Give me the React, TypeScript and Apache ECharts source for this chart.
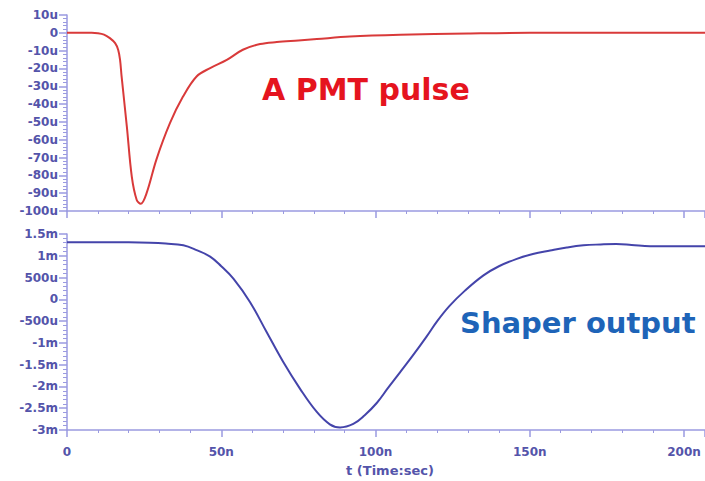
import React, { useEffect, useRef } from "react";
import * as echarts from "echarts";

// PMT pulse (top panel): time in ns, amplitude in µA-units ("u")
const pmtTime = [0, 8, 10, 12, 13.9, 15.6, 16.6, 17.2, 17.7, 19.4, 21, 22.6, 23.9, 25.8, 29, 33.4, 37.6, 42, 46.4, 51.8, 57, 62.6, 68, 75, 81, 91.7, 108, 130, 150, 206.8];
const pmtValue = [0, 0, -0.2, -1, -3, -5.8, -9.6, -15.2, -24.5, -52.6, -80.7, -93.8, -96, -90, -71, -50.6, -35.8, -24.5, -19.8, -15.2, -9.5, -6.3, -5.2, -4.3, -3.5, -2.1, -1.1, -0.4, 0, 0];

// Shaper output (bottom panel): time in ns, amplitude in milli-units ("m")
const shaperTime = [0, 20, 26.9, 32, 37.7, 42, 46.4, 50, 54, 59.3, 64.7, 70.1, 75.5, 80.9, 85.2, 88.5, 92.8, 96.5, 100.4, 104, 108, 112, 116.6, 120, 124, 129, 135, 140, 145.8, 151, 156.6, 162, 167.4, 173, 178, 183, 189, 206.8];
const shaperValue = [1.31, 1.31, 1.3, 1.28, 1.24, 1.13, 0.98, 0.76, 0.47, -0.06, -0.75, -1.44, -2.05, -2.58, -2.87, -2.94, -2.86, -2.66, -2.38, -2.04, -1.67, -1.3, -0.85, -0.5, -0.15, 0.2, 0.55, 0.76, 0.93, 1.04, 1.12, 1.19, 1.24, 1.26, 1.27, 1.25, 1.22, 1.22];

// Tick labels
const xTickLabels = ["0", "50n", "100n", "150n", "200n"];
const topYTicks = ["10u", "0", "-10u", "-20u", "-30u", "-40u", "-50u", "-60u", "-70u", "-80u", "-90u", "-100u"];
const bottomYTicks = ["1.5m", "1m", "500u", "0", "-500u", "-1m", "-1.5m", "-2m", "-2.5m", "-3m"];

const axisColor = "#9a9ae0";
const labelColor = "#5454aa";

export default function App() {
  const ref = useRef<HTMLDivElement>(null);
  useEffect(() => {
    if (!ref.current) return;
    const chart = echarts.init(ref.current, undefined, { renderer: "svg" });
    const labelStyle = {
      color: labelColor,
      fontWeight: "bold" as const,
      fontSize: 12,
      fontFamily: "DejaVu Sans",
    };
    const xLabelFmt = (v: number) => {
      const i = Math.round(v / 50);
      return Math.abs(v - i * 50) < 1e-6 && i < xTickLabels.length ? xTickLabels[i] : "";
    };
    const topYFmt = (v: number) => {
      const i = Math.round((10 - v) / 10);
      return topYTicks[i] ?? "";
    };
    const botYFmt = (v: number) => {
      const i = Math.round((1.5 - v) / 0.5);
      return bottomYTicks[i] ?? "";
    };
    const commonX = {
      type: "value" as const,
      min: 0,
      max: 206.8,
      interval: 50,
      splitLine: { show: false },
      axisLine: { show: true, onZero: false, lineStyle: { color: axisColor, width: 1.5 } },
      axisTick: { show: true, length: 7, lineStyle: { color: axisColor, width: 1.5 } },
      minorTick: { show: true, splitNumber: 5, length: 3, lineStyle: { color: axisColor } },
    };
    const commonY = {
      type: "value" as const,
      splitLine: { show: false },
      axisLine: { show: true, onZero: false, lineStyle: { color: axisColor, width: 1.5 } },
      axisTick: { show: true, length: 8, lineStyle: { color: axisColor, width: 1.5 } },
      minorTick: { show: true, splitNumber: 5, length: 4, lineStyle: { color: axisColor } },
    };
    chart.setOption({
      animation: false,
      backgroundColor: "#ffffff",
      grid: [
        { left: 67, right: 0, top: 15, height: 196 },
        { left: 67, right: 0, top: 234, height: 196 },
      ],
      xAxis: [
        { ...commonX, gridIndex: 0, axisLabel: { show: false } },
        {
          ...commonX,
          gridIndex: 1,
          axisLabel: { ...labelStyle, margin: 16, formatter: xLabelFmt, showMaxLabel: false },
          name: "t (Time:sec)",
          nameLocation: "middle",
          nameGap: 34,
          nameTextStyle: { ...labelStyle, fontSize: 13, padding: [0, 0, 0, 8] },
        },
      ],
      yAxis: [
        {
          ...commonY,
          gridIndex: 0,
          min: -100,
          max: 10,
          interval: 10,
          axisLabel: { ...labelStyle, margin: 9, formatter: topYFmt },
        },
        {
          ...commonY,
          gridIndex: 1,
          min: -3,
          max: 1.5,
          interval: 0.5,
          axisLabel: { ...labelStyle, margin: 9, formatter: botYFmt },
        },
      ],
      series: [
        {
          type: "line",
          xAxisIndex: 0,
          yAxisIndex: 0,
          data: pmtTime.map((t, i) => [t, pmtValue[i]]),
          showSymbol: false,
          smooth: 0.35,
          lineStyle: { color: "#d93a3a", width: 2 },
        },
        {
          type: "line",
          xAxisIndex: 1,
          yAxisIndex: 1,
          data: shaperTime.map((t, i) => [t, shaperValue[i]]),
          showSymbol: false,
          smooth: 0.4,
          lineStyle: { color: "#4444aa", width: 2 },
        },
      ],
      graphic: [
        {
          type: "text",
          left: 262,
          top: 74,
          style: {
            text: "A PMT pulse",
            fill: "#e5141e",
            font: "bold 30px 'DejaVu Sans'",
          },
        },
        {
          type: "text",
          left: 460,
          top: 308,
          style: {
            text: "Shaper output",
            fill: "#1e64b8",
            font: "bold 29px 'DejaVu Sans'",
          },
        },
      ],
    });
    return () => chart.dispose();
  }, []);
  return (
    <div
      ref={ref}
      style={{ position: "fixed", left: 0, top: 0, width: 705, height: 481 }}
    />
  );
}
